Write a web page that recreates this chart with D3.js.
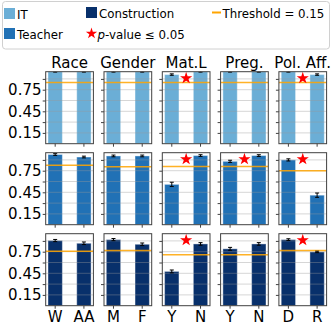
<!DOCTYPE html>
<html>
<head>
<meta charset="utf-8">
<script src="https://cdn.jsdelivr.net/npm/d3@7"></script>
<style>
body { margin: 0; background: #fff; }
svg { font-family: "DejaVu Sans", sans-serif; display: block; }
</style>
</head>
<body>
<div class="graph"></div>
<script>
/*---------- DATA ----------*/

const categories = ["Race", "Gender", "Mat.L", "Preg.", "Pol. Aff."];
const groupLabels = [["W", "AA"], ["M", "F"], ["Y", "N"], ["Y", "N"], ["D", "R"]];
const occupations = ["IT", "Teacher", "Construction"];

const itValues = [[1.0, 1.0], [1.0, 1.0], [0.96, 1.0], [1.0, 1.0], [1.0, 0.96]];
const itErrors = [[0.006, 0.006], [0.006, 0.006], [0.01, 0.006], [0.006, 0.006], [0.006, 0.01]];

const teacherValues = [[0.975, 0.94], [0.955, 0.955], [0.56, 0.96], [0.88, 0.96], [0.90, 0.41]];
const teacherErrors = [[0.012, 0.012], [0.012, 0.012], [0.03, 0.012], [0.015, 0.012], [0.015, 0.03]];

const constructionValues = [[0.905, 0.867], [0.918, 0.853], [0.476, 0.858], [0.79, 0.858], [0.918, 0.747]];
const constructionErrors = [[0.015, 0.018], [0.015, 0.018], [0.02, 0.018], [0.02, 0.018], [0.012, 0.01]];

//p-value <= 0.05 per occupation / category
const significant = [
    [false, false, true, false, true],
    [false, false, true, true, true],
    [false, false, true, false, true]
];

const thresholdGap = 0.15;
const yTicks = [0.15, 0.3, 0.45, 0.6, 0.75, 0.9];
const yTickLabels = [0.15, 0.45, 0.75];

/*---------- D3 STUFF ----------*/

const SIZE = {X: 332, Y: 332};
const PANEL = {LEFT: 45.7, TOP: 71.7, W: 47.7, H: 72, DX: 58.3, DY: 81};
const COLORS = ["#6baed6", "#2171b5", "#08306b"];
const ORANGE = "#ffa500";
const STAR_Y = 0.91;

const rows = [
    {values: itValues, errors: itErrors},
    {values: teacherValues, errors: teacherErrors},
    {values: constructionValues, errors: constructionErrors}
];

const svg = d3.select(".graph").append("svg")
    .attr("width", SIZE.X)
    .attr("height", SIZE.Y);

svg.append("defs").append("clipPath")
    .attr("id", "clip")
    .append("rect")
    .attr("width", PANEL.W)
    .attr("height", PANEL.H);

const y = d3.scaleLinear()
    .domain([0, 1.0])
    .range([PANEL.H, 0]);

const star = d3.symbol().type(d3.symbolStar);

rows.forEach((row, r) => {
    categories.forEach((cat, c) => {
        const vals = row.values[c];
        const errs = row.errors[c];
        const data = groupLabels[c].map((k, i) => ({key: k, value: vals[i], err: errs[i]}));
        const threshold = d3.max(vals) - thresholdGap;

        const x = d3.scaleBand()
            .domain(groupLabels[c])
            .range([0, PANEL.W])
            .paddingInner(0.5)
            .paddingOuter(0.08);

        const g = svg.append("g")
            .attr("transform", `translate(${PANEL.LEFT + c * PANEL.DX}, ${PANEL.TOP + r * PANEL.DY})`);

        const inner = g.append("g").attr("clip-path", "url(#clip)");

        //bars
        inner.selectAll(".bar")
            .data(data)
            .enter().append("rect")
            .attr("class", "bar")
            .attr("x", d => x(d.key))
            .attr("y", d => y(d.value))
            .attr("width", x.bandwidth())
            .attr("height", d => y(0) - y(d.value))
            .attr("fill", COLORS[r])
            .attr("stroke", "#fff")
            .attr("stroke-opacity", 0.4)
            .attr("stroke-width", 1);

        //grid on top of bars
        inner.selectAll(".grid")
            .data(yTicks)
            .enter().append("line")
            .attr("class", "grid")
            .attr("x1", 0)
            .attr("x2", PANEL.W)
            .attr("y1", d => y(d))
            .attr("y2", d => y(d))
            .attr("stroke", "#999")
            .attr("stroke-opacity", 0.4)
            .attr("stroke-width", 1);

        //threshold line
        inner.append("line")
            .attr("x1", 0)
            .attr("x2", PANEL.W)
            .attr("y1", y(threshold))
            .attr("y2", y(threshold))
            .attr("stroke", ORANGE)
            .attr("stroke-opacity", 0.85)
            .attr("stroke-width", 1.5);

        //error bars
        const eb = inner.selectAll(".err")
            .data(data)
            .enter().append("g")
            .attr("class", "err")
            .attr("stroke", "#000")
            .attr("stroke-width", 1);

        eb.append("line")
            .attr("x1", d => x(d.key) + x.bandwidth() / 2)
            .attr("x2", d => x(d.key) + x.bandwidth() / 2)
            .attr("y1", d => y(d.value - d.err))
            .attr("y2", d => y(d.value + d.err));

        [-1, 1].forEach(s => {
            eb.append("line")
                .attr("x1", d => x(d.key) + x.bandwidth() / 2 - 2)
                .attr("x2", d => x(d.key) + x.bandwidth() / 2 + 2)
                .attr("y1", d => y(d.value + s * d.err))
                .attr("y2", d => y(d.value + s * d.err));
        });

        //significance star
        if (significant[r][c]) {
            g.append("path")
                .attr("d", star.size(46)())
                .attr("transform", `translate(${PANEL.W / 2}, ${y(STAR_Y)})`)
                .attr("fill", "#ff0000");
        }

        //frame
        g.append("rect")
            .attr("width", PANEL.W)
            .attr("height", PANEL.H)
            .attr("fill", "none")
            .attr("stroke", "#404040")
            .attr("stroke-width", 1);

        //y axis
        const yAxis = g.append("g")
            .call(d3.axisLeft(y)
                .tickValues(yTicks)
                .tickSize(3)
                .tickPadding(1.2)
                .tickFormat(d => (c === 0 && yTickLabels.includes(d)) ? d3.format(".2f")(d) : ""));
        yAxis.select(".domain").remove();
        yAxis.selectAll("line").attr("stroke", "#404040");
        yAxis.selectAll("text")
            .attr("font-size", "15px")
            .attr("font-family", "DejaVu Sans, sans-serif")
            .attr("fill", "#000");

        //x axis
        const xAxis = g.append("g")
            .attr("transform", `translate(0, ${PANEL.H})`)
            .call(d3.axisBottom(x)
                .tickSize(3)
                .tickPadding(3)
                .tickFormat(d => r === rows.length - 1 ? d : ""));
        xAxis.select(".domain").remove();
        xAxis.selectAll("line").attr("stroke", "#404040");
        xAxis.selectAll("text")
            .attr("font-size", "15px")
            .attr("font-family", "DejaVu Sans, sans-serif")
            .attr("fill", "#000");

        //column titles
        if (r === 0) {
            g.append("text")
                .attr("x", PANEL.W / 2)
                .attr("y", -4)
                .attr("text-anchor", "middle")
                .attr("font-size", "15px")
                .text(cat);
        }
    });
});

/*---------- LEGEND ----------*/

const legend = svg.append("g").attr("font-size", "11.8px");

legend.append("rect")
    .attr("x", 2.5)
    .attr("y", 1.5)
    .attr("width", 327)
    .attr("height", 47.5)
    .attr("rx", 3)
    .attr("fill", "#fff")
    .attr("stroke", "#d0d0d0");

const swatchPos = [{x: 4, y: 8}, {x: 4, y: 28}, {x: 86, y: 7}];
occupations.forEach((o, i) => {
    legend.append("rect")
        .attr("x", swatchPos[i].x)
        .attr("y", swatchPos[i].y)
        .attr("width", 11)
        .attr("height", 11)
        .attr("fill", COLORS[i]);
    legend.append("text")
        .attr("x", swatchPos[i].x + 13)
        .attr("y", swatchPos[i].y + 11)
        .text(o);
});

legend.append("line")
    .attr("x1", 212)
    .attr("x2", 221)
    .attr("y1", 12.5)
    .attr("y2", 12.5)
    .attr("stroke", ORANGE)
    .attr("stroke-width", 2);
legend.append("text")
    .attr("x", 222.5)
    .attr("y", 18)
    .text("Threshold = " + thresholdGap);

legend.append("path")
    .attr("d", star.size(40)())
    .attr("transform", "translate(91.5, 33.5)")
    .attr("fill", "#ff0000");
const pt = legend.append("text")
    .attr("x", 97.5)
    .attr("y", 39);
pt.append("tspan").attr("font-style", "italic").text("p");
pt.append("tspan").text("-value \u2264 0.05");
</script>
</body>
</html>
